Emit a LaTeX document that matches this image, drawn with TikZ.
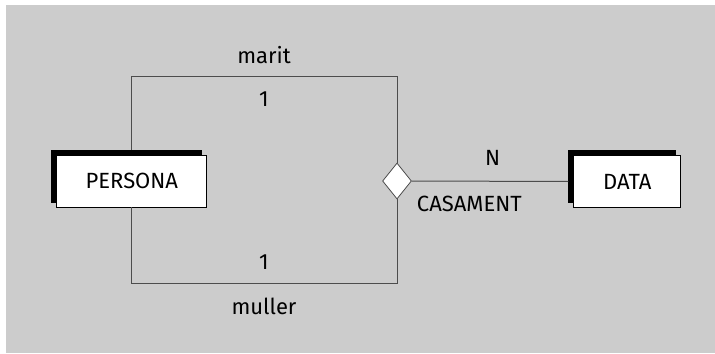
\documentclass[tikz,border=0pt]{standalone}
\usepackage{fontspec}
\setmainfont{Fira Sans}
\usetikzlibrary{shapes.geometric, shadows, positioning}

\begin{document}
\begin{tikzpicture}[x=0.5pt, y=-0.5pt,
  entity/.style={draw=black, line width=0.4pt, fill=white, minimum height=26pt, inner sep=0pt,
    font=\fontsize{11}{13}\selectfont,
    copy shadow={shadow xshift=-2.5pt, shadow yshift=2.5pt, fill=black, draw=black}},
  rel/.style={diamond, draw=black!70, line width=0.4pt, fill=white, inner sep=0pt, minimum width=14.5pt, minimum height=18pt},
  link/.style={draw=black!70, line width=0.5pt},
  lbl/.style={anchor=base, inner sep=0pt, font=\fontsize{11}{13}\selectfont}
]
  \useasboundingbox (0,0) rectangle (715,353);
  \fill[black!20] (6,5) rectangle (715,353);

  \node[entity, minimum width=75pt] (persona) at (131.8,181) {PERSONA};
  \node[entity, minimum width=53.5pt] (data) at (627.3,181.5) {DATA};
  \node[rel] (casament) at (397,181) {};

  \coordinate (mtop) at (131.8,77);
  \coordinate (mbot) at (131.8,283);

  \draw[link] ([yshift=2.5pt]persona.north) -- (mtop) -| (casament.north);
  \draw[link] (persona.south) -- (mbot) -| (casament.south);
  \draw[link] (casament.east) -- ([xshift=-2.5pt]data.west);

  \node[lbl] (marit) at (264,63.3) {marit};
  \node[lbl] (onetop) at (264,106.7) {1};
  \node[lbl] (onebot) at (264,269.3) {1};
  \node[lbl] (muller) at (264,314) {muller};
  \node[lbl] (card) at (492.7,165.7) {N};
  \node[lbl] (relname) at (469.3,211.7) {CASAMENT};
\end{tikzpicture}
\end{document}
